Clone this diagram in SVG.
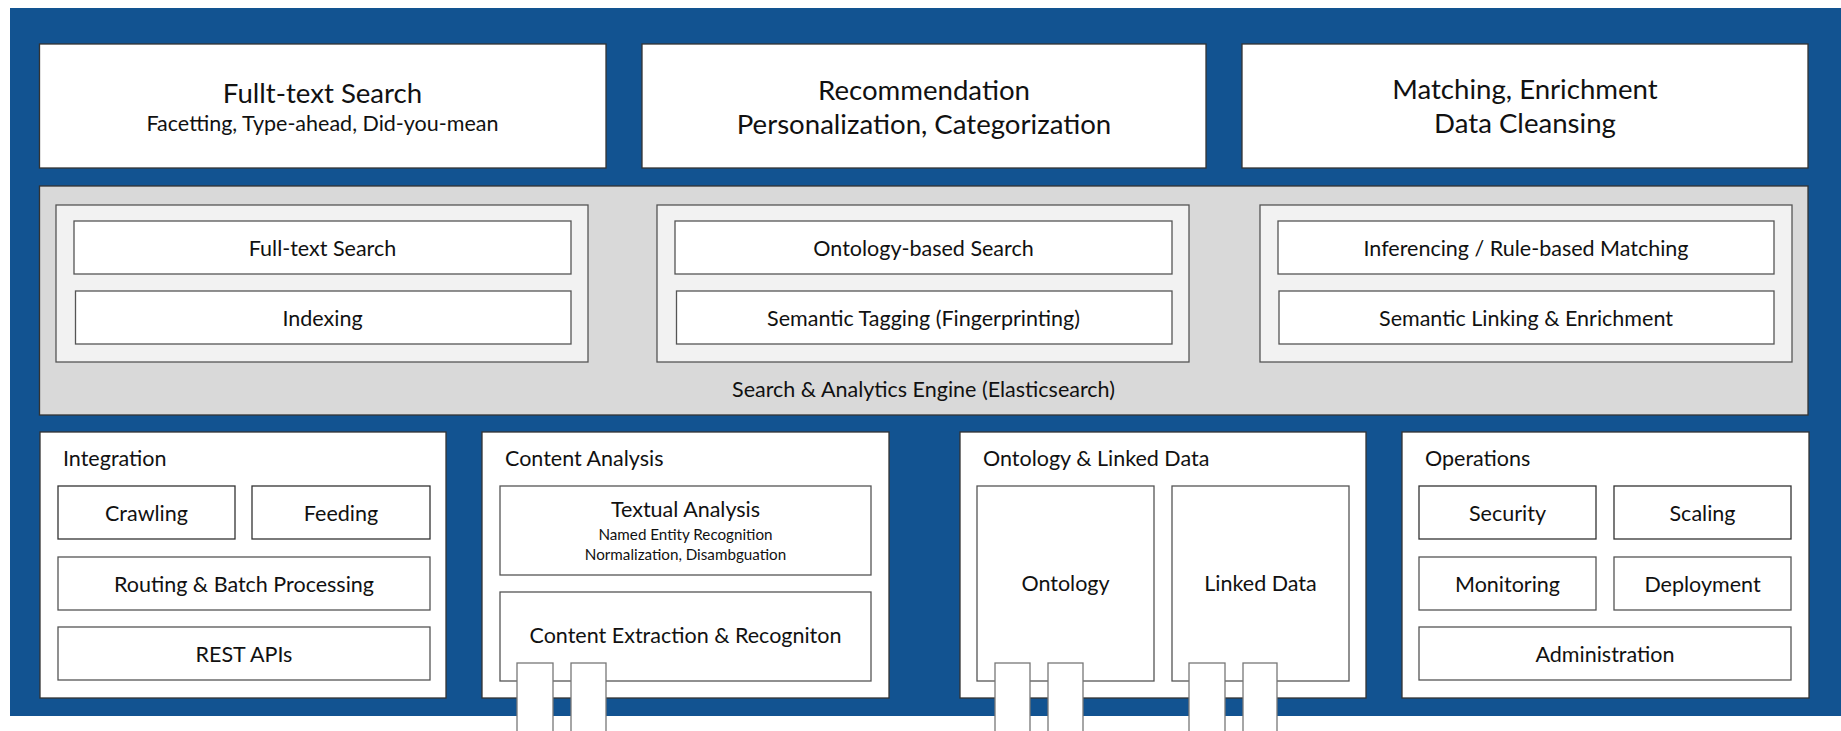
<svg xmlns="http://www.w3.org/2000/svg" width="1841" height="731" viewBox="0 0 1841 731">
<style>
text{font-family:Lato,"Open Sans","Liberation Sans",sans-serif;fill:#111;}
.big{font-size:27.6px;text-anchor:middle;}
.mid{font-size:21.5px;text-anchor:middle;}
.hdr{font-size:21.5px;}
.sm{font-size:15.2px;text-anchor:middle;}
.box{fill:#fff;stroke:#333;stroke-width:1.3;}
.gray{fill:#d9d9d9;stroke:#333;stroke-width:1.3;}
.panel{fill:#f2f2f2;stroke:#555;stroke-width:1.3;}
.inner{fill:#fff;stroke:#555;stroke-width:1.3;}
.tab{fill:#fff;stroke:#777;stroke-width:1.3;}
</style>
<rect x="10" y="8" width="1831" height="708" fill="#125391"/>
<g id="top-fulltext">
<rect class="box" x="39.5" y="44" width="566.5" height="124"/>
<text class="big" x="322.5" y="103">Fullt-text Search</text>
<text class="mid" x="322.5" y="131">Facetting, Type-ahead, Did-you-mean</text>
</g>
<g id="top-recommendation">
<rect class="box" x="642" y="44" width="564" height="124"/>
<text class="big" x="924" y="100">Recommendation</text>
<text class="big" x="924" y="134">Personalization, Categorization</text>
</g>
<g id="top-matching">
<rect class="box" x="1242" y="44" width="566" height="124"/>
<text class="big" x="1525" y="99">Matching, Enrichment</text>
<text class="big" x="1525" y="133">Data Cleansing</text>
</g>
<g id="engine">
<rect class="gray" x="39.5" y="186" width="1768.5" height="229"/>
<text class="mid" x="923.5" y="397">Search &amp; Analytics Engine (Elasticsearch)</text>
</g>
<g id="panel-search">
<rect class="panel" x="56" y="205" width="532" height="157"/>
<g id="fulltext-search"><rect class="inner" x="74" y="221" width="497" height="53"/><text class="mid" x="322.5" y="255.5">Full-text Search</text></g>
<g id="indexing"><rect class="inner" x="75.5" y="291" width="495.5" height="53"/><text class="mid" x="322.5" y="325.5">Indexing</text></g>
</g>
<g id="panel-ontology-search">
<rect class="panel" x="657" y="205" width="532" height="157"/>
<g id="ontology-search"><rect class="inner" x="675" y="221" width="497" height="53"/><text class="mid" x="923.5" y="255.5">Ontology-based Search</text></g>
<g id="semantic-tagging"><rect class="inner" x="676.5" y="291" width="495.5" height="53"/><text class="mid" x="923.5" y="325.5">Semantic Tagging (Fingerprinting)</text></g>
</g>
<g id="panel-inferencing">
<rect class="panel" x="1260" y="205" width="532" height="157"/>
<g id="inferencing"><rect class="inner" x="1278" y="221" width="496" height="53"/><text class="mid" x="1526" y="255.5">Inferencing / Rule-based Matching</text></g>
<g id="semantic-linking"><rect class="inner" x="1279" y="291" width="495" height="53"/><text class="mid" x="1526" y="325.5">Semantic Linking &amp; Enrichment</text></g>
</g>
<g id="integration">
<rect class="box" x="40" y="432" width="406" height="266"/>
<text class="hdr" x="63" y="466">Integration</text>
<g id="crawling"><rect class="box" x="58" y="486" width="177" height="53"/><text class="mid" x="146.5" y="521">Crawling</text></g>
<g id="feeding"><rect class="box" x="252" y="486" width="178" height="53"/><text class="mid" x="341" y="521">Feeding</text></g>
<g id="routing"><rect class="inner" x="58" y="557" width="372" height="53"/><text class="mid" x="244" y="592">Routing &amp; Batch Processing</text></g>
<g id="rest"><rect class="inner" x="58" y="627" width="372" height="53"/><text class="mid" x="244" y="662">REST APIs</text></g>
</g>
<g id="content-analysis">
<rect class="box" x="482" y="432" width="407" height="266"/>
<text class="hdr" x="505" y="466">Content Analysis</text>
<g id="textual"><rect class="inner" x="500" y="486" width="371" height="89"/>
<text class="mid" x="685.5" y="517">Textual Analysis</text>
<text class="sm" x="685.5" y="540">Named Entity Recognition</text>
<text class="sm" x="685.5" y="560">Normalization, Disambguation</text></g>
<g id="extraction"><rect class="inner" x="500" y="592" width="371" height="89"/><text class="mid" x="685.5" y="643">Content Extraction &amp; Recogniton</text></g>
</g>
<g id="ontology-linked">
<rect class="box" x="960" y="432" width="406" height="266"/>
<text class="hdr" x="983" y="466">Ontology &amp; Linked Data</text>
<g id="ontology"><rect class="inner" x="977" y="486" width="177" height="195"/><text class="mid" x="1065.5" y="591">Ontology</text></g>
<g id="linked-data"><rect class="inner" x="1172" y="486" width="177" height="195"/><text class="mid" x="1260.5" y="591">Linked Data</text></g>
</g>
<g id="operations">
<rect class="box" x="1402" y="432" width="407" height="266"/>
<text class="hdr" x="1425" y="466">Operations</text>
<g id="security"><rect class="box" x="1419" y="486" width="177" height="53"/><text class="mid" x="1507.5" y="521">Security</text></g>
<g id="scaling"><rect class="box" x="1614" y="486" width="177" height="53"/><text class="mid" x="1702.5" y="521">Scaling</text></g>
<g id="monitoring"><rect class="inner" x="1419" y="557" width="177" height="53"/><text class="mid" x="1507.5" y="592">Monitoring</text></g>
<g id="deployment"><rect class="inner" x="1614" y="557" width="177" height="53"/><text class="mid" x="1702.5" y="592">Deployment</text></g>
<g id="administration"><rect class="inner" x="1419" y="627" width="372" height="53"/><text class="mid" x="1605" y="662">Administration</text></g>
</g>
<g id="connectors">
<rect class="tab" x="517" y="663" width="36" height="80"/>
<rect class="tab" x="571" y="663" width="35" height="80"/>
<rect class="tab" x="995" y="663" width="35" height="80"/>
<rect class="tab" x="1048" y="663" width="35" height="80"/>
<rect class="tab" x="1189" y="663" width="36" height="80"/>
<rect class="tab" x="1243" y="663" width="34" height="80"/>
</g>
</svg>
